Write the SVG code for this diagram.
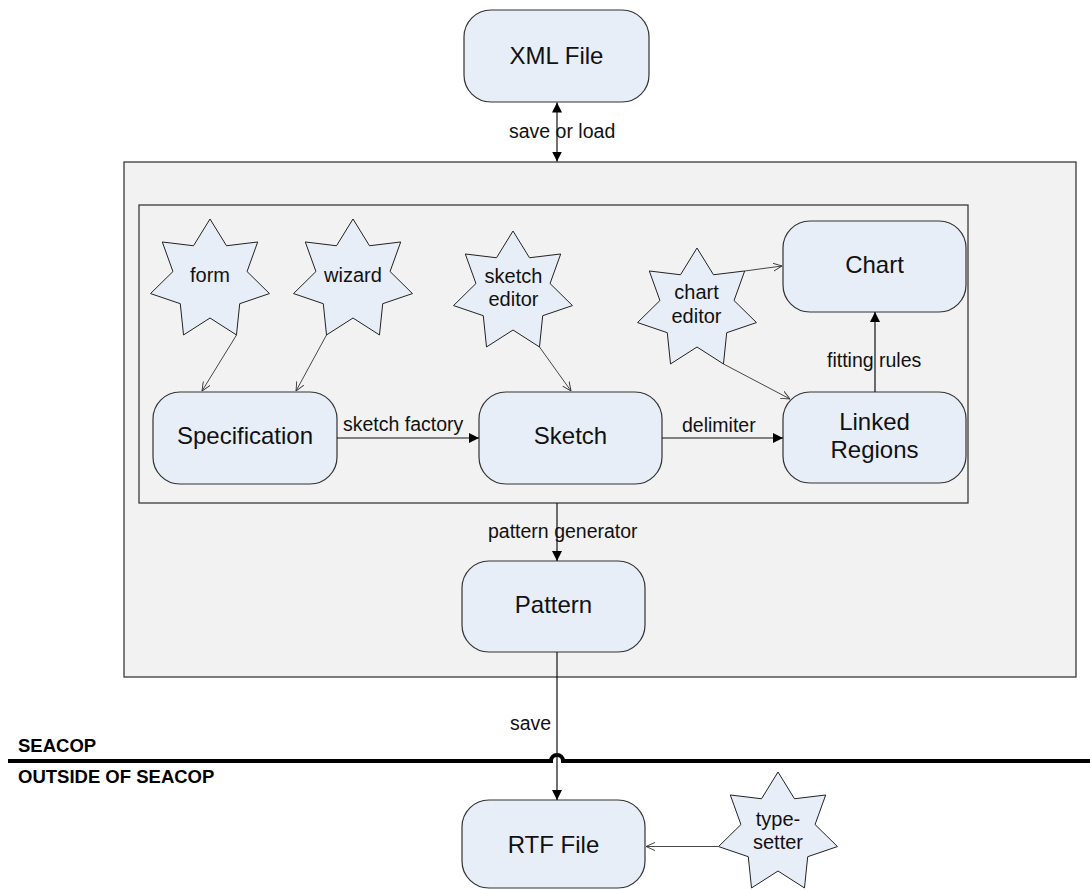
<svg xmlns="http://www.w3.org/2000/svg" width="1090" height="890" viewBox="0 0 1090 890">
<style>
.frame{fill:#F2F2F2;stroke:#3a3a3a;stroke-width:1.3}
.node{fill:#E8EEF8;stroke:#333;stroke-width:1.2}
.star{fill:#E8EEF8;stroke:#222;stroke-width:1}
.nt{font-family:"Liberation Sans",Arial,sans-serif;font-size:24px;fill:#111;text-anchor:middle}
.st{font-family:"Liberation Sans",Arial,sans-serif;font-size:20px;fill:#111;text-anchor:middle}
.lb{font-family:"Liberation Sans",Arial,sans-serif;font-size:19.5px;fill:#111}
.bd{font-family:"Liberation Sans",Arial,sans-serif;font-size:18.5px;font-weight:bold;fill:#000}
.c{fill:none;stroke:#111;stroke-width:1.2}
.t{fill:none;stroke:#333;stroke-width:0.9}
</style>
<defs>
<marker id="af" viewBox="0 0 10 10" refX="10" refY="5" markerWidth="10" markerHeight="10" markerUnits="userSpaceOnUse" orient="auto-start-reverse">
<path d="M0,0 L10,5 L0,10 z" fill="#000"/>
</marker>
<marker id="ao" viewBox="0 0 10 10" refX="10" refY="5" markerWidth="9" markerHeight="9" markerUnits="userSpaceOnUse" orient="auto">
<path d="M0,0.5 L10,5 L0,9.5" fill="none" stroke="#333" stroke-width="1"/>
</marker>
<polygon id="starShape" points="0,-61 16.49,-34.24 47.69,-38.03 37.05,-8.46 59.47,13.57 29.71,23.69 26.47,54.96 0,38 -26.47,54.96 -29.71,23.69 -59.47,13.57 -37.05,-8.46 -47.69,-38.03 -16.49,-34.24"/>
</defs>
<rect width="1090" height="890" fill="#fff"/>
<g id="seacop-frame"><rect class="frame" x="124" y="162" width="952" height="515"/></g>
<g id="inner-frame"><rect class="frame" x="139" y="205" width="829" height="298"/></g>
<g id="boundary">
<path d="M8,761 H551 A6,6 0 0 1 563,761 H1090" fill="none" stroke="#000" stroke-width="4"/>
<text class="bd" x="18" y="752">SEACOP</text>
<text class="bd" x="18" y="783">OUTSIDE OF SEACOP</text>
</g>
<g id="xml-file"><rect class="node" x="464" y="10" width="185" height="92" rx="27"/><text class="nt" x="556.5" y="64">XML File</text></g>
<g id="specification"><rect class="node" x="153" y="392" width="184" height="92" rx="27"/><text class="nt" x="245" y="444">Specification</text></g>
<g id="sketch"><rect class="node" x="479" y="392" width="183" height="92" rx="27"/><text class="nt" x="570.5" y="444">Sketch</text></g>
<g id="linked-regions"><rect class="node" x="783" y="392" width="183" height="91" rx="27"/><text class="nt" x="874.5" y="430">Linked</text><text class="nt" x="874.5" y="458">Regions</text></g>
<g id="chart"><rect class="node" x="783" y="221" width="183" height="91" rx="27"/><text class="nt" x="874.5" y="273">Chart</text></g>
<g id="pattern"><rect class="node" x="462" y="561" width="183" height="91" rx="27"/><text class="nt" x="553.5" y="613">Pattern</text></g>
<g id="rtf-file"><rect class="node" x="462" y="800" width="183" height="88" rx="27"/><text class="nt" x="553.5" y="853">RTF File</text></g>
<g id="form"><use href="#starShape" class="star" transform="translate(210,280)"/><text class="st" x="210" y="282">form</text></g>
<g id="wizard"><use href="#starShape" class="star" transform="translate(353,280)"/><text class="st" x="353" y="282">wizard</text></g>
<g id="sketch-editor"><use href="#starShape" class="star" transform="translate(513,292)"/><text class="st" x="513.5" y="283">sketch</text><text class="st" x="513.5" y="306">editor</text></g>
<g id="chart-editor"><use href="#starShape" class="star" transform="translate(697,309)"/><text class="st" x="696.5" y="299">chart</text><text class="st" x="696.5" y="323">editor</text></g>
<g id="type-setter"><use href="#starShape" class="star" transform="translate(778,833)"/><text class="st" x="778" y="826">type-</text><text class="st" x="778" y="849">setter</text></g>
<g id="connectors">
<line class="c" x1="557" y1="102.5" x2="557" y2="161.5" marker-start="url(#af)" marker-end="url(#af)"/>
<text class="lb" x="509" y="138">save or load</text>
<line class="c" x1="337" y1="438" x2="479" y2="438" marker-end="url(#af)"/>
<text class="lb" x="343" y="431">sketch factory</text>
<line class="c" x1="662" y1="438" x2="783" y2="438" marker-end="url(#af)"/>
<text class="lb" x="682" y="432">delimiter</text>
<line class="c" x1="875" y1="392" x2="875" y2="312" marker-end="url(#af)"/>
<text class="lb" x="827" y="367">fitting rules</text>
<line class="c" x1="557" y1="503" x2="557" y2="561" marker-end="url(#af)"/>
<text class="lb" x="488" y="538">pattern generator</text>
<path class="c" d="M557,652 V755" />
<path class="c" d="M557,761 V800" marker-end="url(#af)"/>
<path class="c" d="M557,755 V761"/>
<text class="lb" x="510" y="730">save</text>
<line class="t" x1="236.5" y1="335" x2="202" y2="391" marker-end="url(#ao)"/>
<line class="t" x1="326.5" y1="335" x2="296" y2="391" marker-end="url(#ao)"/>
<line class="t" x1="539.5" y1="347" x2="571" y2="391" marker-end="url(#ao)"/>
<line class="t" x1="744.7" y1="271" x2="782" y2="266" marker-end="url(#ao)"/>
<line class="t" x1="723.5" y1="364" x2="790" y2="399" marker-end="url(#ao)"/>
<line class="t" x1="718.5" y1="846.5" x2="646" y2="846.5" marker-end="url(#ao)" stroke="#666"/>
</g>
</svg>
